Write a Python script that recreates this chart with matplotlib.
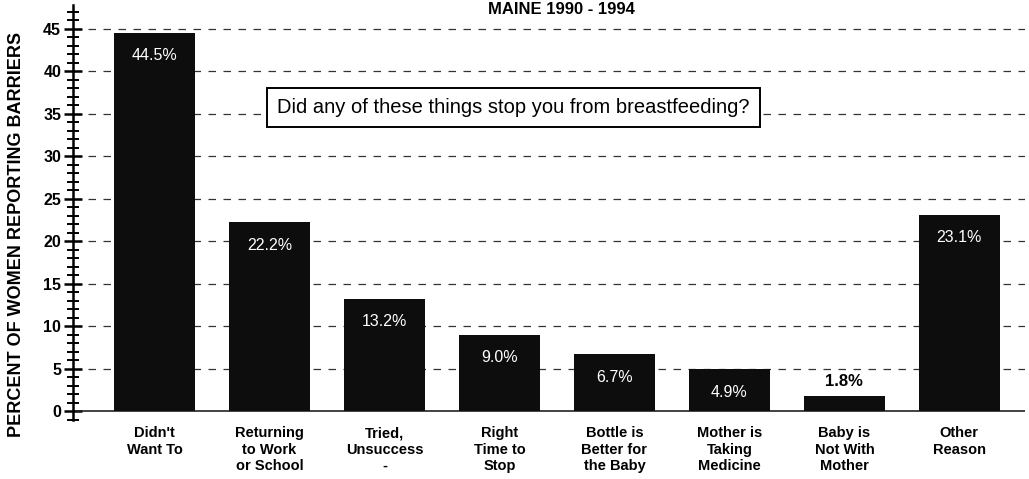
import matplotlib.pyplot as plt
from matplotlib.ticker import MultipleLocator

plt.rcParams['font.family'] = ['Liberation Sans', 'DejaVu Sans']

categories = ["Didn't\nWant To", "Returning\nto Work\nor School", "Tried,\nUnsuccess\n-",
              "Right\nTime to\nStop", "Bottle is\nBetter for\nthe Baby", "Mother is\nTaking\nMedicine",
              "Baby is\nNot With\nMother", "Other\nReason"]
values = [44.5, 22.2, 13.2, 9.0, 6.7, 4.9, 1.8, 23.1]
value_labels = ["44.5%", "22.2%", "13.2%", "9.0%", "6.7%", "4.9%", "1.8%", "23.1%"]

fig = plt.figure(figsize=(10.29, 4.79), dpi=100)
ax = fig.add_axes([0.0709, 0.1242, 0.9251, 0.8654])

x = list(range(len(categories)))
ax.bar(x, values, width=0.71, color='#0d0d0d', zorder=3)

for xi, v, lab in zip(x, values, value_labels):
    if v > 4:
        ax.text(xi, v - 2.7, lab, ha='center', va='center', color='white', fontsize=11.5, zorder=4)
    else:
        ax.text(xi, v + 1.7, lab, ha='center', va='center', color='black', fontsize=12,
                fontweight='bold', zorder=4)

ax.set_xlim(-0.71, 7.57)
ax.set_ylim(-1, 47.8)
ax.yaxis.set_minor_locator(MultipleLocator(1))
ax.set_yticks(range(0, 46, 5))
ax.tick_params(axis='y', which='major', direction='inout', length=13, width=1.8, labelsize=11.5, pad=2)
ax.tick_params(axis='y', which='minor', direction='inout', length=9, width=1.4)
for t in ax.get_yticklabels():
    t.set_fontweight('bold')
ax.set_xticks([])

for s in ['top', 'right', 'bottom']:
    ax.spines[s].set_visible(False)
ax.spines['left'].set_linewidth(1.8)
ax.axhline(0, color='#222222', lw=1.2, zorder=2)

for g in range(5, 46, 5):
    ax.axhline(g, color='#333333', lw=0.9, ls=(0, (6, 6)), zorder=1)

for xi, c in zip(x, categories):
    ax.text(xi, -1.8, c, ha='center', va='top', fontsize=10.5, fontweight='bold',
            linespacing=1.2, clip_on=False)

ax.text(0.463, 0.752, "Did any of these things stop you from breastfeeding?", transform=ax.transAxes,
        ha='center', va='center', fontsize=14.5, zorder=5,
        bbox=dict(boxstyle='square,pad=0.5', facecolor='white', edgecolor='black', lw=1.4))

fig.text(0.016, 0.51, "PERCENT OF WOMEN REPORTING BARRIERS", rotation=90, ha='center', va='center',
         fontsize=13, fontweight='bold')
fig.text(0.546, 0.996, "MAINE 1990 - 1994", ha='center', va='top', fontsize=12, fontweight='bold')

fig.savefig('out.png', dpi=100)
